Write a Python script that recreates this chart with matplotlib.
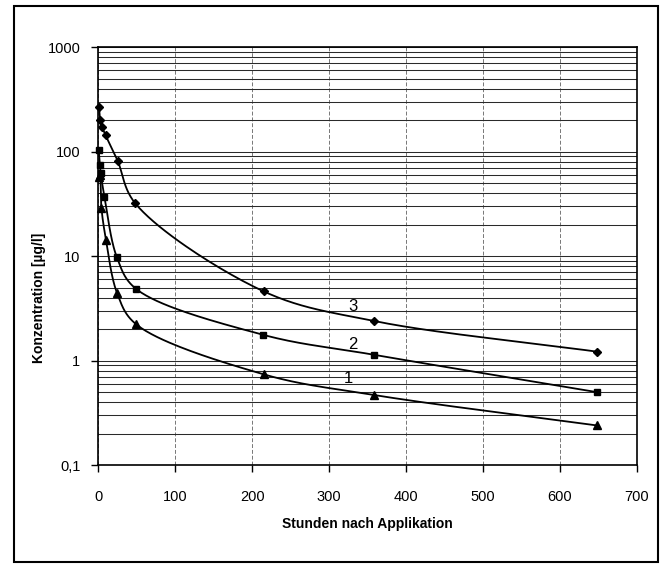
import numpy as np
import matplotlib.pyplot as plt
from matplotlib.patches import Rectangle
from matplotlib.ticker import FixedLocator, FixedFormatter, LogLocator, NullFormatter

plt.rcParams['font.family'] = ['Liberation Sans', 'DejaVu Sans']

# hours after application / concentration in ug/l
x3 = [1, 2.5, 5, 9.5, 25, 48, 215, 358, 648]
y3 = [265, 200, 172, 143, 82, 32, 4.6, 2.4, 1.22]

x2 = [0.5, 2, 3, 8, 24, 48.5, 214, 358, 648]
y2 = [103, 74, 62, 37, 9.8, 4.9, 1.77, 1.14, 0.50]

x1 = [0.5, 2, 4, 10, 24.5, 48.5, 215, 358, 648]
y1 = [57, 60, 29, 14.2, 4.4, 2.25, 0.74, 0.47, 0.24]

series = [(x1, y1, '^', 6, '1', 325, 0.67),
          (x2, y2, 's', 5, '2', 331, 1.43),
          (x3, y3, 'D', 4.5, '3', 331, 3.27)]

ytick_vals = [0.1, 1, 10, 100, 1000]
ytick_text = ['0,1', '1', '10', '100', '1000']


def smooth(ax, xs, ys, n=40, alpha=0.5):
    # centripetal Catmull-Rom through the points in screen space
    pts = ax.transData.transform(np.column_stack([xs, ys]))
    p = np.vstack([2 * pts[0] - pts[1], pts, 2 * pts[-1] - pts[-2]])
    out = []
    for i in range(1, len(p) - 2):
        P0, P1, P2, P3 = p[i - 1], p[i], p[i + 1], p[i + 2]
        t0 = 0.0
        t1 = t0 + max(np.linalg.norm(P1 - P0), 1e-6) ** alpha
        t2 = t1 + max(np.linalg.norm(P2 - P1), 1e-6) ** alpha
        t3 = t2 + max(np.linalg.norm(P3 - P2), 1e-6) ** alpha
        t = np.linspace(t1, t2, n)[:, None]
        A1 = (t1 - t) / (t1 - t0) * P0 + (t - t0) / (t1 - t0) * P1
        A2 = (t2 - t) / (t2 - t1) * P1 + (t - t1) / (t2 - t1) * P2
        A3 = (t3 - t) / (t3 - t2) * P2 + (t - t2) / (t3 - t2) * P3
        B1 = (t2 - t) / (t2 - t0) * A1 + (t - t0) / (t2 - t0) * A2
        B2 = (t3 - t) / (t3 - t1) * A2 + (t - t1) / (t3 - t1) * A3
        C = (t2 - t) / (t2 - t1) * B1 + (t - t1) / (t2 - t1) * B2
        out.append(C)
    out = np.vstack(out)
    return ax.transData.inverted().transform(out)


fig = plt.figure(figsize=(6.69, 5.68), dpi=100)
ax = fig.add_axes([0.147, 0.181, 0.805, 0.736])
ax.set_yscale('log')
ax.set_xlim(0, 700)
ax.set_ylim(0.1, 1000)

ax.yaxis.set_major_locator(FixedLocator(ytick_vals))
ax.yaxis.set_major_formatter(FixedFormatter(ytick_text))
ax.yaxis.set_minor_locator(LogLocator(base=10, subs=np.arange(2, 10)))
ax.yaxis.set_minor_formatter(NullFormatter())
ax.set_xticks(range(0, 701, 100))

ax.grid(axis='y', which='both', color='#2a2a2a', lw=0.75)
ax.grid(axis='x', which='major', color='#777777', lw=0.7, ls=(0, (4, 2)))
ax.set_axisbelow(True)

ax.tick_params(axis='y', which='major', length=5, width=1, pad=8, labelsize=10.5)
ax.tick_params(axis='y', which='minor', length=0)
ax.tick_params(axis='x', length=5, width=1, pad=13, labelsize=10.5)
for s in ax.spines.values():
    s.set_linewidth(1.2)

for xs, ys, m, ms, lab, lx, ly in series:
    c = smooth(ax, xs, ys)
    ax.plot(c[:, 0], c[:, 1], color='black', lw=1.3, clip_on=False)
    ax.plot(xs, ys, ls='none', marker=m, ms=ms, color='black', clip_on=False)
    ax.text(lx, ly, lab, fontsize=12, ha='center', va='center')

ax.set_xlabel('Stunden nach Applikation', fontsize=10, fontweight='bold')
ax.xaxis.set_label_coords(0.5, -0.125)
ax.set_ylabel('Konzentration [µg/l]', fontsize=10, fontweight='bold')
ax.yaxis.set_label_coords(-0.097, 0.40)

fig.patches.append(Rectangle((14 / 669, 6 / 568), 644 / 669, 556 / 568,
                             transform=fig.transFigure, fill=False,
                             edgecolor='black', lw=1.5))

fig.savefig('out.png', dpi=100)
